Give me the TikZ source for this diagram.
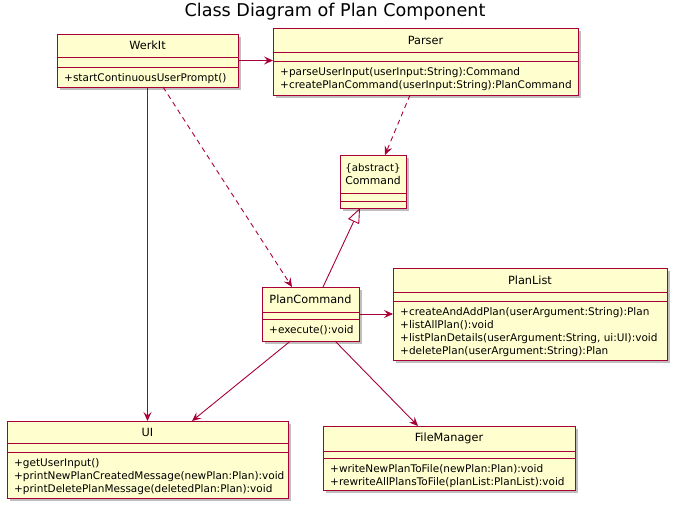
\documentclass[tikz,border=0pt]{standalone}
\usepackage{fontspec}
\setmainfont{DejaVu Sans}
\usetikzlibrary{arrows.meta,shadows,calc}
\definecolor{umlfill}{HTML}{FEFECE}
\definecolor{umlline}{HTML}{A80036}
\tikzset{
 classbox/.style={draw=umlline, fill=umlfill, line width=1pt, inner sep=0pt, outer sep=0pt,
   drop shadow={shadow xshift=3pt, shadow yshift=-3pt, fill=black, opacity=0.25}},
 sepline/.style={draw=umlline, line width=1pt},
 cname/.style={font=\fontsize{11.3}{12.5}\selectfont, inner sep=0pt, align=center},
 meth/.style={font=\fontsize{10.5}{13}\selectfont, inner sep=0pt, align=left, anchor=north west},
 assoc/.style={draw=umlline, line width=0.9pt, -{Stealth[length=9pt,width=8pt,inset=3.5pt]}},
 dep/.style={assoc, dash pattern=on 5pt off 4pt},
 gen/.style={draw=umlline, line width=0.9pt, -{Triangle[length=15pt,width=12pt,fill=white]}}
}
\newcommand\umlclass[9]{%
 \node[classbox, minimum width={(#4-#2)*1pt}, minimum height={(#5-#3)*1pt}] (#1) at ({(#2+#4)/2},{(#3+#5)/2}) {};
 \draw[sepline] (#2,#6) -- (#4,#6);
 \draw[sepline] (#2,#7) -- (#4,#7);
 \node[cname] (#1-name) at ({(#2+#4)/2},{(#3+#6)/2}) {#8};
 \node[meth] (#1-ops) at (#2+7,#7+6) {#9};
}
\begin{document}
\begin{tikzpicture}[x=1pt,y=-1pt]
\useasboundingbox (0,0) rectangle (679,512);
\node[font=\fontsize{17.6}{20}\selectfont, inner sep=0pt] (title) at (335,12) {Class Diagram of Plan Component};
\umlclass{werkit}{57}{34}{238}{87}{57}{67}{WerkIt}{+startContinuousUserPrompt()}
\umlclass{parser}{273}{28}{578}{95}{52}{61}{Parser}{+parseUserInput(userInput:String):Command\\+createPlanCommand(userInput:String):PlanCommand}
\umlclass{command}{340}{155}{406}{208}{193}{201}{\fontsize{10.2}{12.5}\selectfont\{abstract\}\\\fontsize{10.8}{12.5}\selectfont Command}{}
\umlclass{plancmd}{262}{287}{359}{341}{312}{319}{PlanCommand}{+execute():void}
\umlclass{planlist}{393}{268}{667}{360}{292}{301}{PlanList}{+createAndAddPlan(userArgument:String):Plan\\+listAllPlan():void\\+listPlanDetails(userArgument:String, ui:UI):void\\+deletePlan(userArgument:String):Plan}
\umlclass{ui}{7}{421}{288}{498}{443}{452}{UI}{+getUserInput()\\+printNewPlanCreatedMessage(newPlan:Plan):void\\+printDeletePlanMessage(deletedPlan:Plan):void}
\umlclass{fm}{323}{426}{575}{490}{451}{458}{FileManager}{+writeNewPlanToFile(newPlan:Plan):void\\+rewriteAllPlansToFile(planList:PlanList):void}
% connectors
\draw[assoc] (werkit.east) -- (werkit.east -| parser.west);
\draw[assoc] (werkit.south -| ui.north) -- (ui.north);
\draw[dep] ([xshift=15.5pt]werkit.south) -- ([xshift=-18.5pt]plancmd.north);
\draw[dep] ([xshift=-15.5pt]parser.south) -- ([xshift=12pt]command.north);
\draw[gen] ([xshift=12.5pt]plancmd.north) -- ([xshift=-13pt]command.south);
\draw[assoc] (plancmd.east) -- (plancmd.east -| planlist.west);
\draw[assoc] ([xshift=-20pt]plancmd.south) -- ([xshift=44.5pt]ui.north);
\draw[assoc] ([xshift=24.5pt]plancmd.south) -- ([xshift=-31pt]fm.north);
\end{tikzpicture}
\end{document}
